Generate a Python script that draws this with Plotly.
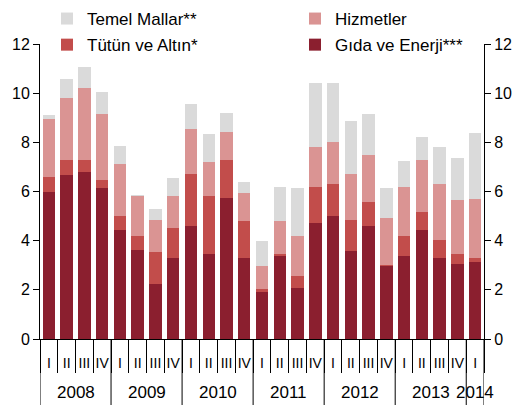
import plotly.graph_objects as go

years = ["2008"] * 4 + ["2009"] * 4 + ["2010"] * 4 + ["2011"] * 4 + ["2012"] * 4 + ["2013"] * 4 + ["2014"]
quarters = ["I", "II", "III", "IV"] * 6 + ["I"]

gida_enerji = [6.00, 6.69, 6.78, 6.15, 4.42, 3.61, 2.24, 3.30, 4.60, 3.46, 5.74, 3.30, 1.91,
               3.38, 2.06, 4.73, 5.00, 3.58, 4.59, 2.98, 3.38, 4.42, 3.31, 3.05, 3.15]
tutun_altin = [0.61, 0.58, 0.49, 0.32, 0.58, 0.57, 1.29, 1.20, 2.10, 2.35, 1.53, 1.52, 0.14,
               0.07, 0.50, 1.47, 1.29, 1.25, 0.97, 0.02, 0.81, 0.74, 0.71, 0.41, 0.13]
hizmetler = [2.35, 2.55, 2.96, 2.68, 2.11, 1.64, 1.31, 1.32, 1.86, 1.38, 1.14, 1.10, 0.92,
             1.37, 1.65, 1.63, 1.71, 1.87, 1.93, 1.94, 2.01, 2.13, 2.27, 2.20, 2.43]
temel_mallar = [0.17, 0.76, 0.85, 0.89, 0.75, 0.03, 0.45, 0.71, 0.99, 1.15, 0.79, 0.46, 1.02,
                1.38, 1.92, 2.58, 2.41, 2.15, 1.65, 1.19, 1.06, 0.94, 1.54, 1.72, 2.66]

y_ticks = [0, 2, 4, 6, 8, 10, 12]

FONT = "Liberation Sans, Arial, sans-serif"
keys = [f"{y} {q}" for y, q in zip(years, quarters)]
n = len(keys)

W, H = 519, 397
M = dict(l=32, r=43, t=36, b=66)
plot_h = H - M["t"] - M["b"]

# (name, values, colour, legend column, rank)
series = [
    ("Gıda ve Enerji***", gida_enerji, "#8B1F2F", "legend2", 2),
    ("Tütün ve Altın*", tutun_altin, "#C24D4B", "legend", 2),
    ("Hizmetler", hizmetler, "#DA9493", "legend2", 1),
    ("Temel Mallar**", temel_mallar, "#DADADA", "legend", 1),
]

fig = go.Figure()
for name, vals, col, leg, rank in series:
    fig.add_trace(go.Bar(x=keys, y=vals, name=name, legend=leg, legendgroup=name, legendrank=rank,
                         marker=dict(color=col, line=dict(width=0))))

# invisible trace so that the right-hand axis is drawn
fig.add_trace(go.Scatter(x=keys, y=gida_enerji, mode="markers", marker=dict(opacity=0),
                         yaxis="y2", showlegend=False, hoverinfo="skip"))

# year groups: labels and dividers derived from the category list
bottom = -M["b"] / plot_h
groups = []
for i, y in enumerate(years):
    if not groups or groups[-1][0] != y:
        groups.append([y, i, i])
    else:
        groups[-1][2] = i
for y, s, e in groups:
    fig.add_annotation(x=(s + e) / 2, xref="x", y=-53 / plot_h, yref="paper", text=y,
                       showarrow=False, font=dict(family=FONT, size=17, color="#000"),
                       yanchor="middle")
    fig.add_shape(type="line", xref="x", yref="paper", x0=s - 0.5, x1=s - 0.5, y0=0, y1=bottom,
                  line=dict(color="#000", width=1))
fig.add_shape(type="line", xref="x", yref="paper", x0=n - 0.5, x1=n - 0.5, y0=0, y1=bottom,
              line=dict(color="#000", width=1))

legend_common = dict(
    orientation="v", yanchor="top", xanchor="left", y=1 + (M["t"] + 7) / plot_h,
    xref="container", yref="paper",
    font=dict(family=FONT, size=17, color="#000"),
    bgcolor="rgba(0,0,0,0)", itemwidth=30, tracegroupgap=1, traceorder="grouped",
)

fig.update_layout(
    width=W, height=H,
    barmode="stack", bargap=0.3,
    paper_bgcolor="white", plot_bgcolor="white",
    margin=dict(autoexpand=False, **M),
    font=dict(family=FONT, size=14, color="#000"),
    showlegend=True,
    legend=dict(x=39 / W, **legend_common),
    legend2=dict(x=287 / W, **legend_common),
    xaxis=dict(
        type="category", range=[-0.5, n - 0.5], tickvals=keys, ticktext=quarters,
        showline=True, linecolor="#000", linewidth=1, tickson="boundaries",
        ticks="outside", ticklen=33, tickcolor="#000", tickangle=0, ticklabelstandoff=11,
        tickfont=dict(family=FONT, size=14), showgrid=False, zeroline=False,
    ),
    yaxis=dict(
        range=[0, 12], tickvals=y_ticks, showline=True, linecolor="#000", linewidth=1,
        ticks="outside", ticklen=6, tickcolor="#000", showgrid=False, zeroline=False,
        tickfont=dict(family=FONT, size=16),
    ),
    yaxis2=dict(
        range=[0, 12], tickvals=y_ticks, overlaying="y", side="right",
        showline=True, linecolor="#000", linewidth=1, tickfont=dict(family=FONT, size=16),
        ticks="outside", ticklen=6, tickcolor="#000", showgrid=False, zeroline=False,
    ),
)

fig.write_html("out.html")
